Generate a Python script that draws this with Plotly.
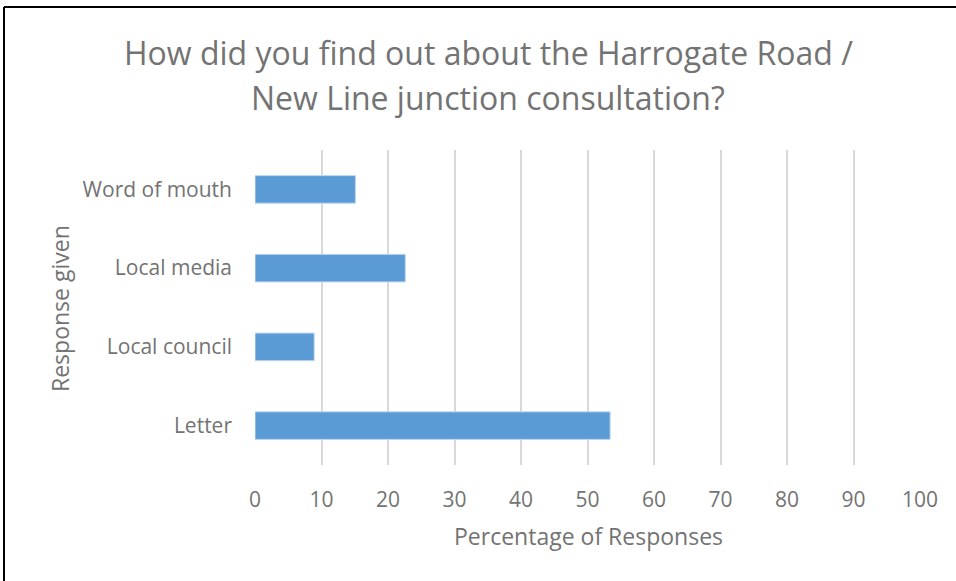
import plotly.graph_objects as go

# Survey responses (share of respondents, %)
categories = ["Letter", "Local council", "Local media", "Word of mouth"]
percentages = [53.4, 8.9, 22.6, 15.1]
x_ticks = [0, 10, 20, 30, 40, 50, 60, 70, 80, 90, 100]

title_lines = [
    "How did you find out about the Harrogate Road /",
    "New Line junction consultation?",
]
x_title = "Percentage of Responses"
y_title = "Response given"

FONT = "Open Sans"
GREY = "#737373"

fig = go.Figure(
    go.Bar(
        x=percentages,
        y=categories,
        orientation="h",
        marker=dict(color="#5b9bd5", line=dict(color="#bdd7ee", width=1)),
        width=0.35,
    )
)

# plot area spans x 255..920 px, y 150..465 px
L, R, T, B = 255, 36, 150, 116
W, H = 956, 581
pw, ph = W - L - R, H - T - B

def px_x(p):
    return (p - L) / pw

def px_y(p):
    return (H - B - p) / ph

annotations = [
    dict(
        text=line,
        x=px_x(488), y=px_y(y),
        xref="paper", yref="paper",
        xanchor="center", yanchor="middle",
        showarrow=False,
        font=dict(size=32, color=GREY, family=FONT),
    )
    for line, y in zip(title_lines, [52, 98])
]
annotations += [
    dict(
        text=x_title,
        x=px_x(588), y=px_y(536),
        xref="paper", yref="paper",
        xanchor="center", yanchor="middle",
        showarrow=False,
        font=dict(size=23, color=GREY, family=FONT),
    ),
    dict(
        text=y_title,
        x=px_x(60), y=px_y(309),
        xref="paper", yref="paper",
        xanchor="center", yanchor="middle",
        textangle=-90,
        showarrow=False,
        font=dict(size=23, color=GREY, family=FONT),
    ),
]

fig.update_layout(
    width=W,
    height=H,
    margin=dict(l=L, r=R, t=T, b=B),
    paper_bgcolor="white",
    plot_bgcolor="white",
    showlegend=False,
    font=dict(family=FONT, color=GREY),
    xaxis=dict(
        range=[0, 100],
        tickvals=x_ticks,
        showgrid=True,
        gridcolor="#d9d9d9",
        gridwidth=1.5,
        zeroline=False,
        showline=False,
        ticks="",
        tickfont=dict(size=21, color=GREY),
        ticklabelstandoff=20,
        fixedrange=True,
    ),
    yaxis=dict(
        categoryorder="array",
        categoryarray=categories,
        showgrid=False,
        zeroline=False,
        showline=False,
        ticks="",
        tickfont=dict(size=21, color=GREY),
        ticklabelstandoff=22,
        fixedrange=True,
    ),
    annotations=annotations,
    shapes=[
        dict(type="line", xref="paper", yref="paper",
             x0=px_x(4), x1=px_x(960), y0=px_y(7), y1=px_y(7),
             line=dict(color="black", width=2)),
        dict(type="line", xref="paper", yref="paper",
             x0=px_x(4), x1=px_x(4), y0=px_y(7), y1=px_y(585),
             line=dict(color="black", width=2)),
    ],
)

fig.write_html("out.html")
